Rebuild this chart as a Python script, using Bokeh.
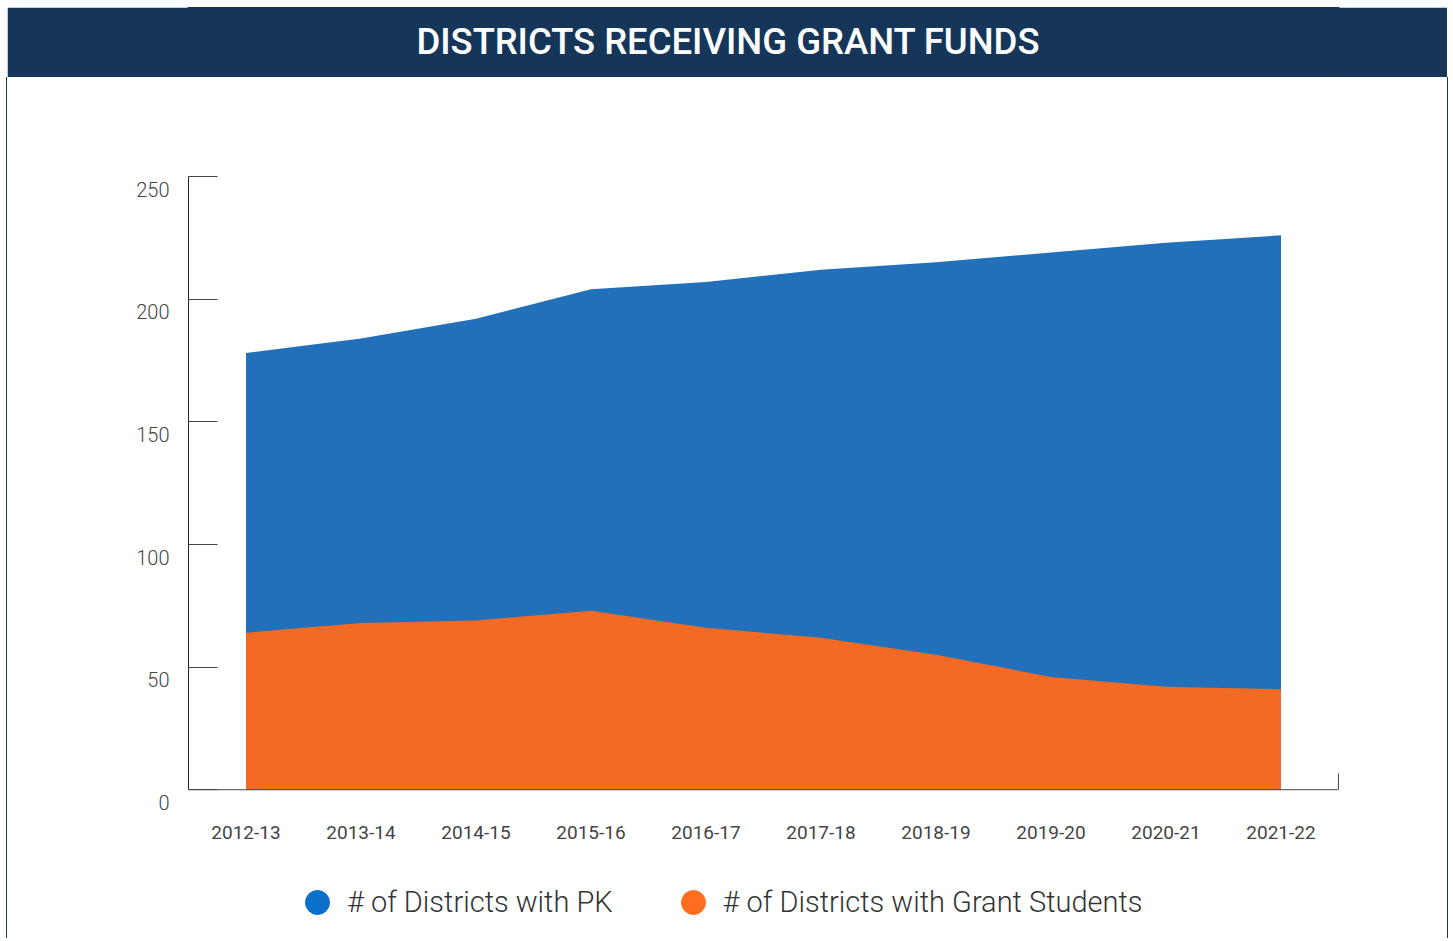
from bokeh.plotting import figure
from bokeh.models import (Range1d, FixedTicker, Legend, LegendItem, ColumnDataSource,
                          LinearAxis, Span)
from bokeh.layouts import column
from bokeh.core.properties import value
from bokeh.embed import file_html
from bokeh.resources import INLINE

# ---- data ----
years = ["2012-13", "2013-14", "2014-15", "2015-16", "2016-17",
         "2017-18", "2018-19", "2019-20", "2020-21", "2021-22"]
districts_pk = [178, 184, 192, 204, 207, 212, 215, 219, 223, 226]
districts_grant = [64, 68, 69, 73, 66, 62, 55, 46, 42, 41]
y_ticks = [0, 50, 100, 150, 200, 250]
title_text = "DISTRICTS RECEIVING GRANT FUNDS"
legend_labels = ["# of Districts with PK", "# of Districts with Grant Students"]

NAVY = "#163659"
BLUE_AREA = "#2170B9"
ORANGE_AREA = "#F26A24"
BLUE_DOT = "#0B6FCC"
ORANGE_DOT = "#FF6D1F"
W = 1440
LABEL_SHIFT = 5.2   # tick labels sit a little below their ticks (data units)
SIDE_BORDERS = {"box-shadow": "-1px 0 0 #163659, 1px 0 0 #163659"}

# ---- title bar ----
t = figure(width=W, height=70, x_range=Range1d(0, 1), y_range=Range1d(0, 1),
           toolbar_location=None, output_backend="svg", min_border=0,
           x_axis_location=None, y_axis_location=None)
t.grid.visible = False
t.outline_line_color = NAVY
t.outline_line_width = 2
t.background_fill_color = NAVY
t.border_fill_color = NAVY
t.text(x=[0.5], y=[0.5], text=[title_text], text_align="center",
       text_baseline="middle", text_color="white", x_offset=-35, y_offset=-1,
       text_font=value("Roboto Medium"), text_font_size="36.5px")

# ---- main chart ----
idx = list(range(len(years)))
src = ColumnDataSource(dict(x=idx, pk=districts_pk, grant=districts_grant,
                            zero=[0] * len(idx)))

p = figure(width=W, height=769, x_range=Range1d(-0.5, len(years) - 0.5),
           y_range=Range1d(-LABEL_SHIFT, 250), toolbar_location=None,
           output_backend="svg", y_axis_location=None,
           min_border_left=181, min_border_right=109, min_border_top=99,
           min_border_bottom=44, styles=SIDE_BORDERS)
p.grid.visible = False
p.outline_line_color = None
p.background_fill_color = "white"
p.border_fill_color = "white"

p.varea(x="x", y1="zero", y2="pk", source=src, fill_color=BLUE_AREA)
p.varea(x="x", y1="zero", y2="grant", source=src, fill_color=ORANGE_AREA)

# x baseline at zero
p.add_layout(Span(location=0, dimension="width", line_color="#444444",
                  line_width=1))

# y axis: line + ticks
ya = LinearAxis(ticker=FixedTicker(ticks=y_ticks), bounds=(0, 250))
ya.axis_line_color = "#222222"
ya.major_tick_line_color = "#444444"
ya.major_tick_in = 29
ya.major_tick_out = 0
ya.minor_tick_line_color = None
ya.major_label_standoff = 0
ya.major_label_overrides = {v: "" for v in y_ticks}
ya.major_label_text_font_size = "0px"
p.add_layout(ya, "left")

# y axis: labels (set slightly below the ticks)
yl = LinearAxis(ticker=FixedTicker(ticks=[v - LABEL_SHIFT for v in y_ticks]))
yl.major_label_overrides = {v - LABEL_SHIFT: str(v) for v in y_ticks}
yl.axis_line_color = None
yl.major_tick_line_color = None
yl.minor_tick_line_color = None
yl.major_label_standoff = 13
yl.major_label_text_font = "Roboto Light"
yl.major_label_text_font_size = "20px"
yl.major_label_text_color = "#444444"
p.add_layout(yl, "left")

# right end tick of the x axis
ra = LinearAxis(ticker=FixedTicker(ticks=[]), bounds=(0, 6.5))
ra.axis_line_color = "#444444"
ra.major_tick_line_color = None
ra.minor_tick_line_color = None
ra.major_label_text_font_size = "0px"
ra.major_label_standoff = 0
p.add_layout(ra, "right")

# x axis labels
xa = p.xaxis[0]
xa.ticker = FixedTicker(ticks=idx)
xa.major_label_overrides = {i: y for i, y in enumerate(years)}
xa.axis_line_color = None
xa.major_tick_line_color = None
xa.minor_tick_line_color = None
xa.major_label_standoff = 17
xa.major_label_text_font = "Roboto"
xa.major_label_text_font_size = "19px"
xa.major_label_text_color = "#444444"

# ---- legend strip ----
lg = figure(width=W, height=92, x_range=Range1d(0, 1), y_range=Range1d(0, 1),
            toolbar_location=None, output_backend="svg", min_border=0,
            x_axis_location=None, y_axis_location=None, styles=SIDE_BORDERS)
lg.grid.visible = False
lg.outline_line_color = None
lg.background_fill_color = "white"
lg.border_fill_color = "white"
nan = float("nan")
r1 = lg.scatter(x=[nan], y=[nan], size=24, marker="circle", fill_color=BLUE_DOT,
                line_color=BLUE_DOT)
r2 = lg.scatter(x=[nan], y=[nan], size=24, marker="circle", fill_color=ORANGE_DOT,
                line_color=ORANGE_DOT)
legend = Legend(items=[LegendItem(label=legend_labels[0], renderers=[r1]),
                       LegendItem(label=legend_labels[1], renderers=[r2])],
                orientation="horizontal", location=(99, 1),
                glyph_width=60, glyph_height=70, label_standoff=0,
                spacing=50, padding=0, margin=0, border_line_color=None,
                background_fill_alpha=0, label_text_font="Roboto Light",
                label_text_font_size="29px", label_text_color="#333333")
lg.add_layout(legend)

layout = column(t, p, lg, spacing=0, margin=(7, 0, 0, 7))
open("out.html", "w").write(file_html(layout, INLINE))
